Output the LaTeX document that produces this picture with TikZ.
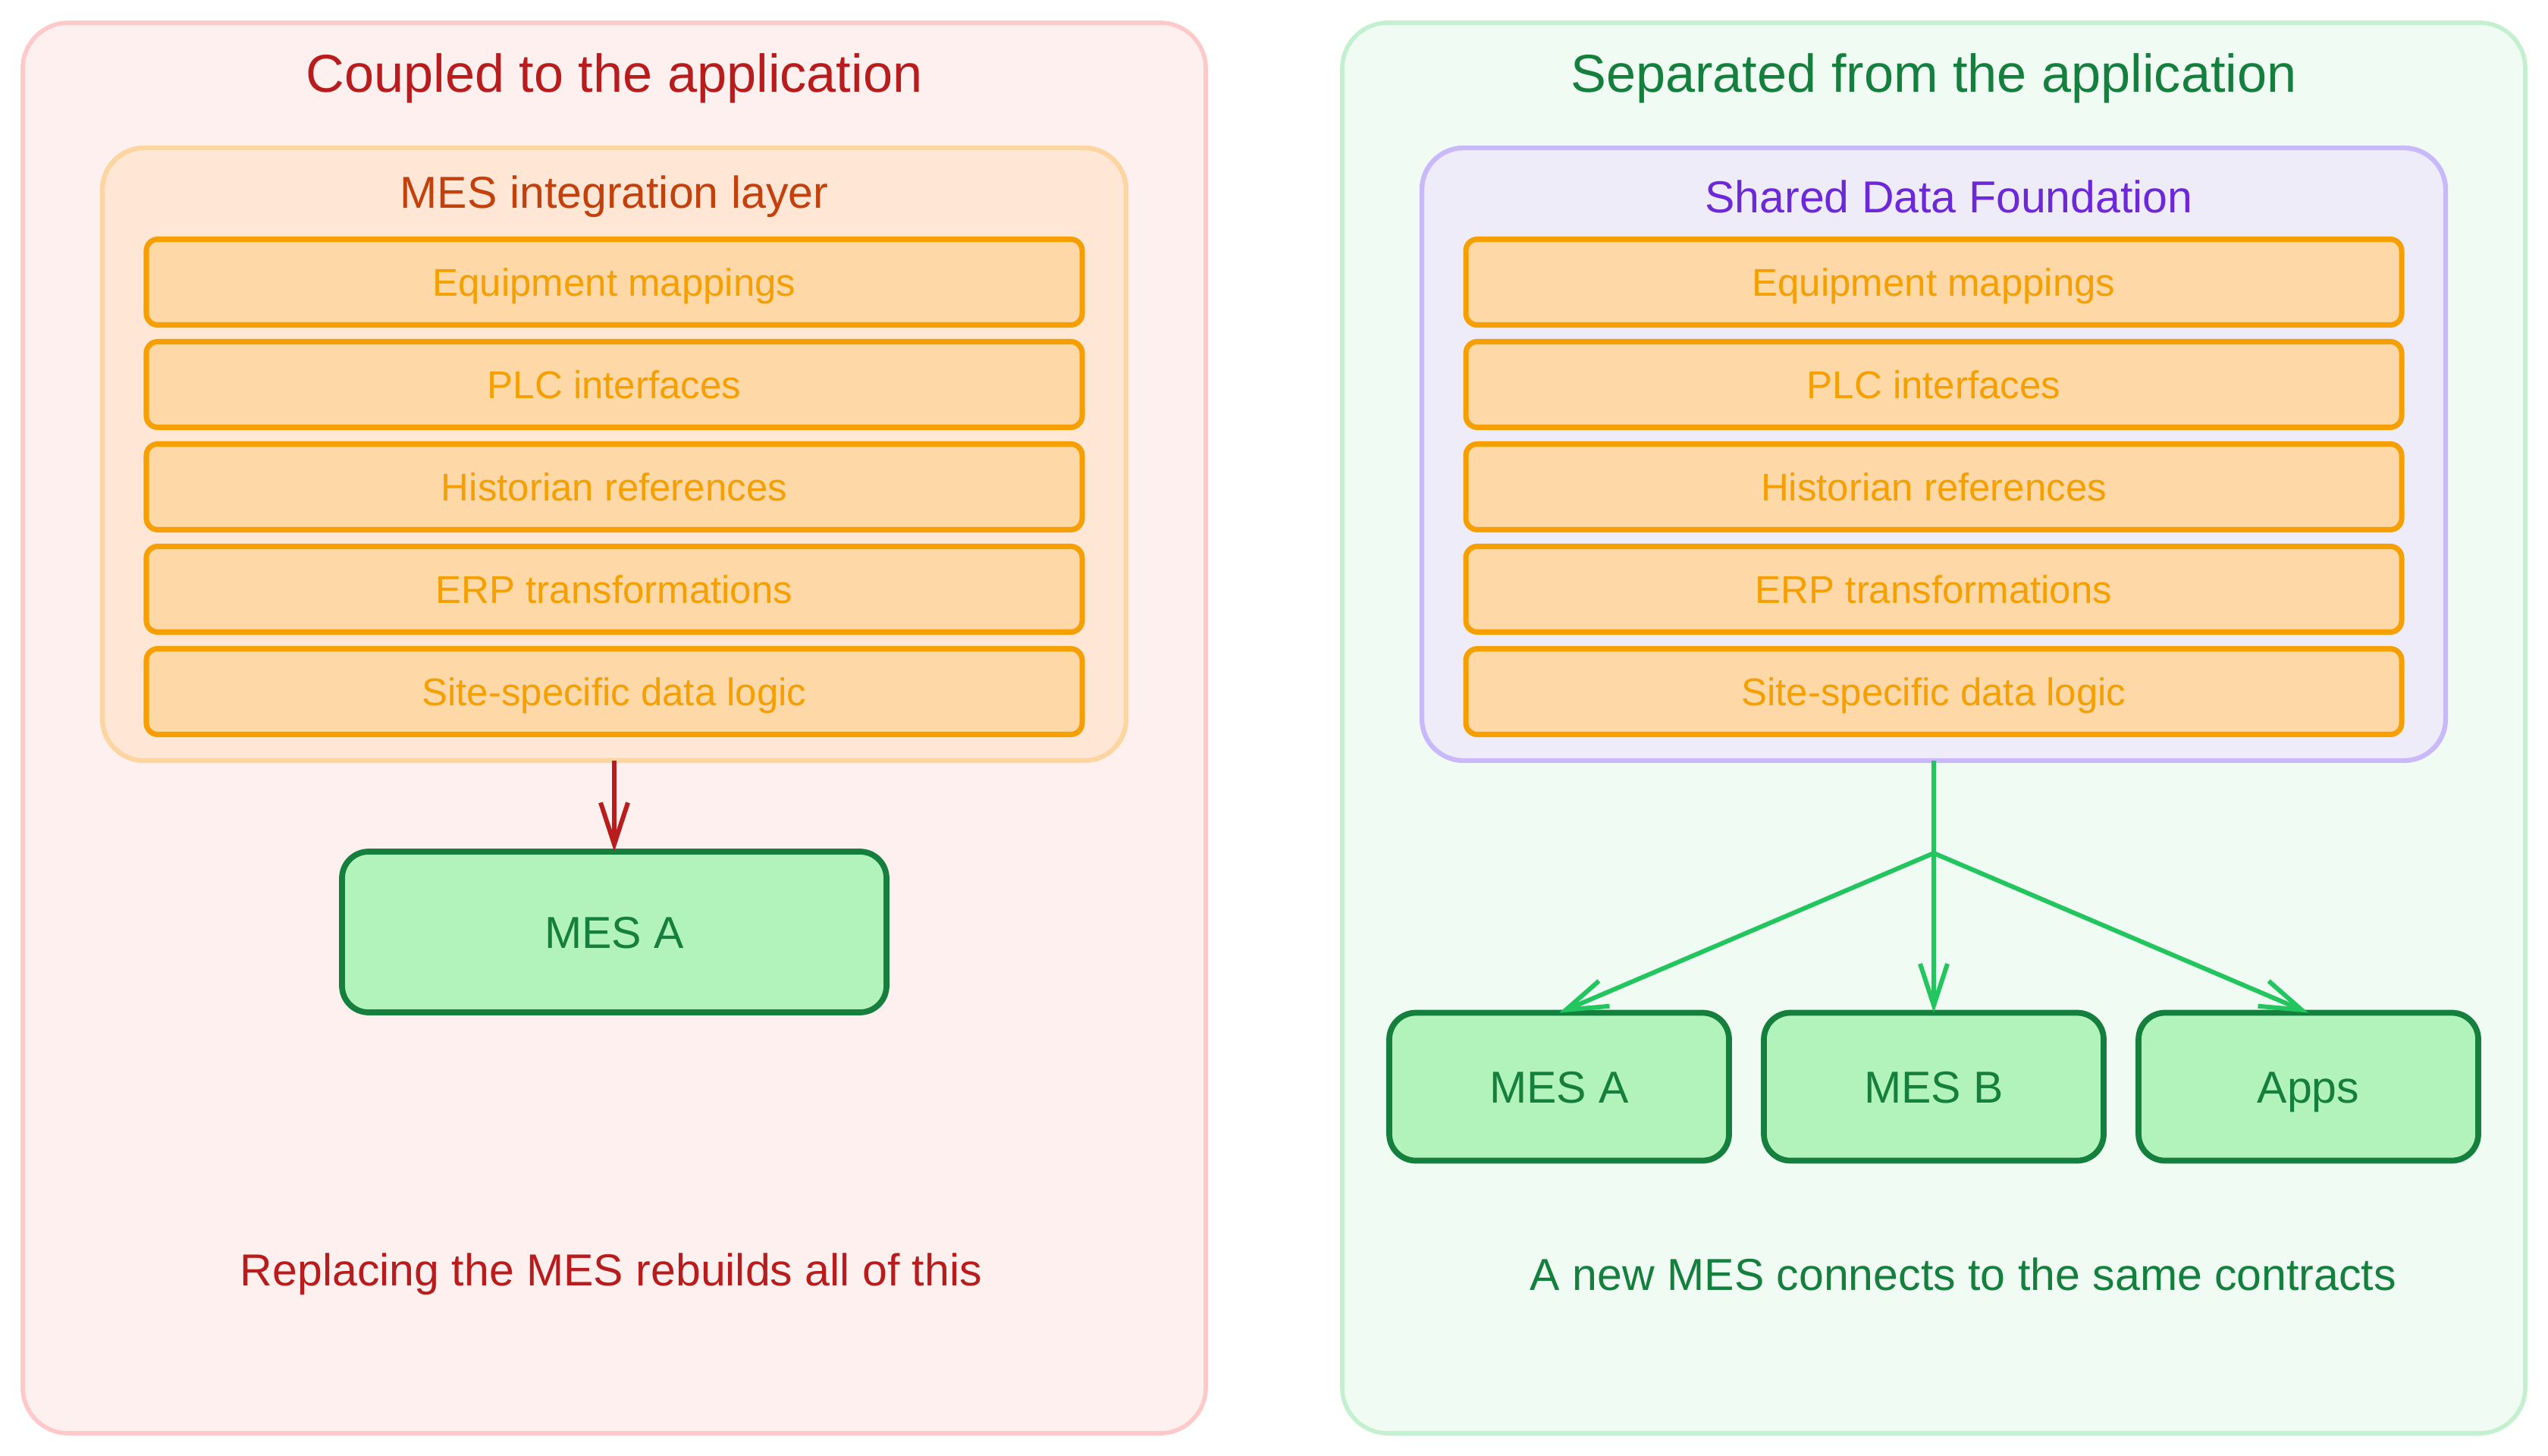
\documentclass[tikz,border=0pt]{standalone}
\usepackage{fontspec}
\setmainfont{Liberation Sans}
\usetikzlibrary{arrows.meta, positioning}
\definecolor{rosaFondo}{HTML}{FFF0F0}
\definecolor{rosaBorde}{HTML}{FFC9C9}
\definecolor{verdeFondo}{HTML}{F0FBF3}
\definecolor{verdeBorde}{HTML}{C3F0CF}
\definecolor{rojoOscuro}{HTML}{B91C1C}
\definecolor{verdeOscuro}{HTML}{15803D}
\definecolor{verdeClaro}{HTML}{B2F2BB}
\definecolor{verdeFlecha}{HTML}{22C55E}
\definecolor{naranjaFondo}{HTML}{FFE6D5}
\definecolor{naranjaBorde}{HTML}{FDD5A0}
\definecolor{naranjaTitulo}{HTML}{C2410C}
\definecolor{naranja}{HTML}{F59F00}
\definecolor{naranjaClaro}{HTML}{FFD8A8}
\definecolor{lilaFondo}{HTML}{EEECF8}
\definecolor{lilaBorde}{HTML}{C9B8FA}
\definecolor{lilaTitulo}{HTML}{6D28D9}

\begin{document}
\begin{tikzpicture}[
        panel/.style={line width=1.6pt, rounded corners=0.6cm,
            minimum width=15.6cm, minimum height=18.6cm, outer sep=0pt},
        titulo/.style={font=\fontsize{20}{24}\selectfont},
        nota/.style={font=\fontsize{16.8}{20}\selectfont},
        capa/.style={line width=1.8pt, rounded corners=0.55cm,
            minimum width=13.5cm, minimum height=8.08cm, outer sep=0pt},
        fila/.style={draw=naranja, fill=naranjaClaro, line width=2pt, rounded corners=0.15cm,
            minimum width=12.34cm, minimum height=1.13cm, outer sep=0pt,
            text height=10.4pt, text depth=0pt,
            text=naranja, font=\fontsize{14.5}{17}\selectfont},
        mes/.style={draw=verdeOscuro, fill=verdeClaro, line width=2.2pt, rounded corners=0.35cm,
            outer sep=0pt, text height=12pt, text depth=0pt,
            text=verdeOscuro, font=\fontsize{16.8}{20}\selectfont},
        rel/.style={-{Straight Barb[length=5.5mm, width=3.6mm]}, line width=1.7pt}
    ]
        \useasboundingbox (0,0) rectangle (33.6,-19.2);

        % coupled side
        \node[panel, draw=rosaBorde, fill=rosaFondo] (izq) at (8.10,-9.60) {};
        \node[titulo, text=rojoOscuro] (tituloIzq) at (8.10,-1.03) {Coupled to the application};
        \node[capa, draw=naranjaBorde, fill=naranjaFondo] (capaMES) at (8.10,-5.99) {};
        \node[nota, text=naranjaTitulo] (tituloCapa) at (8.10,-2.59) {MES integration layer};
        \node[fila] (eqIzq) at (8.10,-3.72) {Equipment mappings};
        \node[fila, below=0.22cm of eqIzq] (plcIzq) {PLC interfaces};
        \node[fila, below=0.22cm of plcIzq] (histIzq) {Historian references};
        \node[fila, below=0.22cm of histIzq] (erpIzq) {ERP transformations};
        \node[fila, below=0.22cm of erpIzq] (sitioIzq) {Site-specific data logic};
        \node[mes, minimum width=7.18cm, minimum height=2.12cm] (mesA) at (8.10,-12.29) {MES A};
        \node[nota, text=rojoOscuro] (notaIzq) at (8.06,-16.80) {Replacing the MES rebuilds all of this};

        \draw[rel, rojoOscuro] (capaMES) -- (mesA);

        % separated side
        \node[panel, draw=verdeBorde, fill=verdeFondo] (der) at (25.50,-9.60) {};
        \node[titulo, text=verdeOscuro] (tituloDer) at (25.50,-1.03) {Separated from the application};
        \node[capa, draw=lilaBorde, fill=lilaFondo] (shared) at (25.50,-5.99) {};
        \node[nota, text=lilaTitulo] (tituloShared) at (25.70,-2.59) {Shared Data Foundation};
        \node[fila] (eqDer) at (25.50,-3.72) {Equipment mappings};
        \node[fila, below=0.22cm of eqDer] (plcDer) {PLC interfaces};
        \node[fila, below=0.22cm of plcDer] (histDer) {Historian references};
        \node[fila, below=0.22cm of histDer] (erpDer) {ERP transformations};
        \node[fila, below=0.22cm of erpDer] (sitioDer) {Site-specific data logic};
        \node[mes, minimum width=4.48cm, minimum height=1.95cm] (mesB) at (25.50,-14.33) {MES B};
        \node[mes, minimum width=4.48cm, minimum height=1.95cm, left=0.46cm of mesB] (mesADer) {MES A};
        \node[mes, minimum width=4.48cm, minimum height=1.95cm, right=0.46cm of mesB] (apps) {Apps};
        \node[nota, text=verdeOscuro] (notaDer) at (25.89,-16.80) {A new MES connects to the same contracts};

        \coordinate (reparto) at (25.50,-11.25);
        \draw[rel, verdeFlecha] (shared) -- (mesB);
        \draw[rel, verdeFlecha] (reparto) -- (mesADer.north);
        \draw[rel, verdeFlecha] (reparto) -- (apps.north);
    \end{tikzpicture}
\end{document}
